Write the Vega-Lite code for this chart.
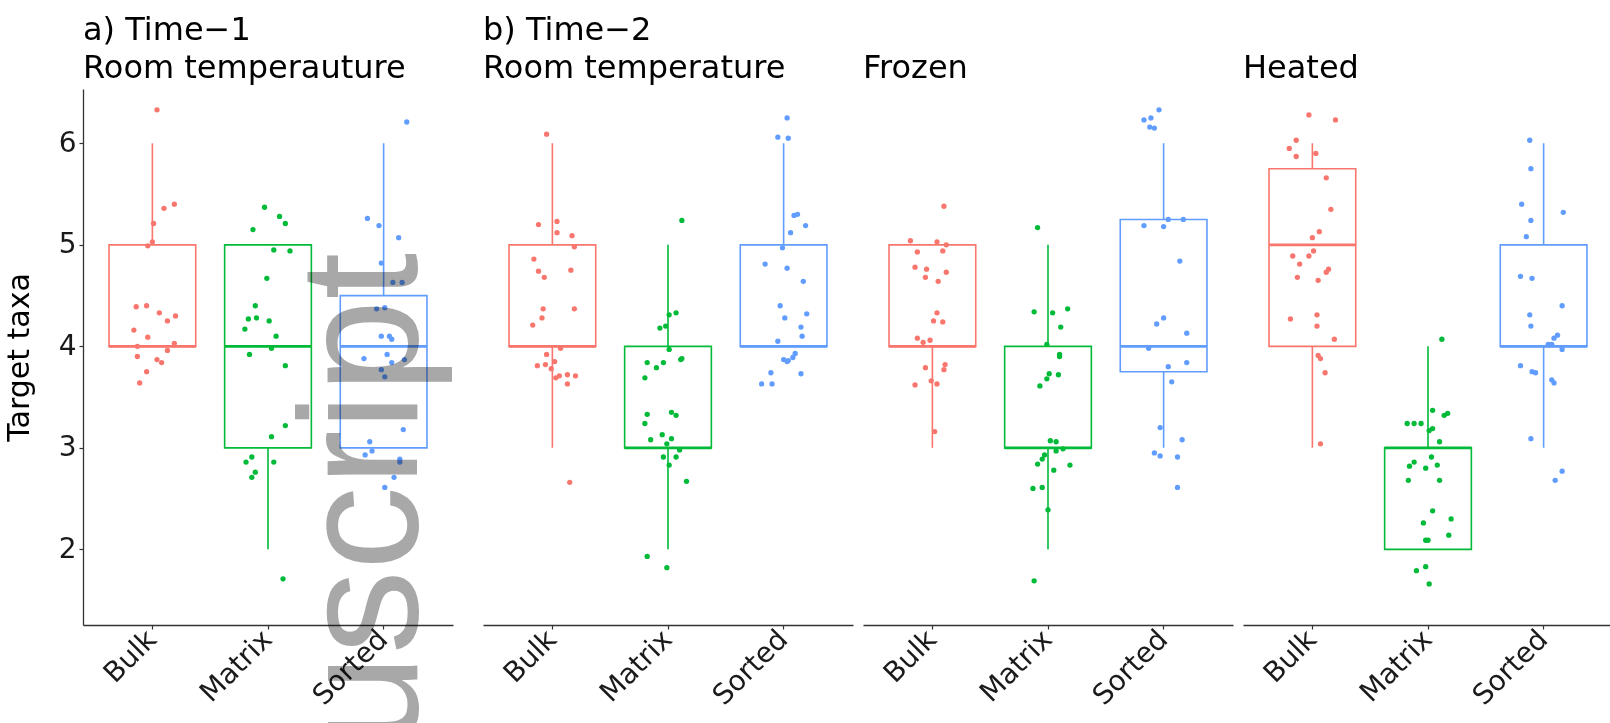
{
  "$schema": "https://vega.github.io/schema/vega-lite/v6.json",
  "background": "white",
  "padding": {"left": 4, "top": 14, "right": 0, "bottom": 0},
  "spacing": 10,
  "datasets": {
    "box": [
      {"p":1,"g":"Bulk","lo":4,"q1":4,"med":4,"q3":5,"hi":6},
      {"p":1,"g":"Matrix","lo":2,"q1":3,"med":4,"q3":5,"hi":5},
      {"p":1,"g":"Sorted","lo":3,"q1":3,"med":4,"q3":4.5,"hi":6},
      {"p":2,"g":"Bulk","lo":3,"q1":4,"med":4,"q3":5,"hi":6},
      {"p":2,"g":"Matrix","lo":2,"q1":3,"med":3,"q3":4,"hi":5},
      {"p":2,"g":"Sorted","lo":4,"q1":4,"med":4,"q3":5,"hi":6},
      {"p":3,"g":"Bulk","lo":3,"q1":4,"med":4,"q3":5,"hi":5},
      {"p":3,"g":"Matrix","lo":2,"q1":3,"med":3,"q3":4,"hi":5},
      {"p":3,"g":"Sorted","lo":3,"q1":3.75,"med":4,"q3":5.25,"hi":6},
      {"p":4,"g":"Bulk","lo":3,"q1":4,"med":5,"q3":5.75,"hi":6},
      {"p":4,"g":"Matrix","lo":2,"q1":2,"med":3,"q3":3,"hi":4},
      {"p":4,"g":"Sorted","lo":3,"q1":4,"med":4,"q3":5,"hi":6}
    ],
    "pts": [
      {"p":1,"g":"Bulk","v":6.33,"j":0.04},{"p":1,"g":"Bulk","v":5.36,"j":0.10},{"p":1,"g":"Bulk","v":5.40,"j":0.19},{"p":1,"g":"Bulk","v":5.21,"j":0.01},{"p":1,"g":"Bulk","v":5.03,"j":0.0},{"p":1,"g":"Bulk","v":4.99,"j":-0.04},{"p":1,"g":"Bulk","v":4.39,"j":-0.14},{"p":1,"g":"Bulk","v":4.40,"j":-0.05},{"p":1,"g":"Bulk","v":4.33,"j":0.06},{"p":1,"g":"Bulk","v":4.30,"j":0.20},{"p":1,"g":"Bulk","v":4.25,"j":0.13},{"p":1,"g":"Bulk","v":4.16,"j":-0.16},{"p":1,"g":"Bulk","v":4.09,"j":-0.04},{"p":1,"g":"Bulk","v":4.03,"j":0.19},{"p":1,"g":"Bulk","v":4.00,"j":-0.13},{"p":1,"g":"Bulk","v":3.90,"j":-0.13},{"p":1,"g":"Bulk","v":3.96,"j":0.13},{"p":1,"g":"Bulk","v":3.87,"j":0.04},{"p":1,"g":"Bulk","v":3.84,"j":0.08},{"p":1,"g":"Bulk","v":3.75,"j":-0.05},{"p":1,"g":"Bulk","v":3.64,"j":-0.11},
      {"p":1,"g":"Matrix","v":5.37,"j":-0.03},{"p":1,"g":"Matrix","v":5.28,"j":0.10},{"p":1,"g":"Matrix","v":5.21,"j":0.15},{"p":1,"g":"Matrix","v":5.15,"j":-0.13},{"p":1,"g":"Matrix","v":4.95,"j":0.05},{"p":1,"g":"Matrix","v":4.94,"j":0.19},{"p":1,"g":"Matrix","v":4.67,"j":-0.01},{"p":1,"g":"Matrix","v":4.40,"j":-0.11},{"p":1,"g":"Matrix","v":4.27,"j":-0.17},{"p":1,"g":"Matrix","v":4.28,"j":-0.10},{"p":1,"g":"Matrix","v":4.25,"j":0.01},{"p":1,"g":"Matrix","v":4.17,"j":-0.20},{"p":1,"g":"Matrix","v":4.10,"j":0.07},{"p":1,"g":"Matrix","v":3.98,"j":0.03},{"p":1,"g":"Matrix","v":3.92,"j":-0.16},{"p":1,"g":"Matrix","v":3.81,"j":0.15},{"p":1,"g":"Matrix","v":3.22,"j":0.15},{"p":1,"g":"Matrix","v":3.11,"j":0.03},{"p":1,"g":"Matrix","v":2.91,"j":-0.14},{"p":1,"g":"Matrix","v":2.86,"j":-0.19},{"p":1,"g":"Matrix","v":2.86,"j":0.05},{"p":1,"g":"Matrix","v":2.76,"j":-0.11},{"p":1,"g":"Matrix","v":2.71,"j":-0.14},{"p":1,"g":"Matrix","v":1.71,"j":0.13},
      {"p":1,"g":"Sorted","v":6.21,"j":0.20},{"p":1,"g":"Sorted","v":5.26,"j":-0.14},{"p":1,"g":"Sorted","v":5.19,"j":-0.04},{"p":1,"g":"Sorted","v":5.07,"j":0.13},{"p":1,"g":"Sorted","v":4.82,"j":-0.02},{"p":1,"g":"Sorted","v":4.63,"j":0.08},{"p":1,"g":"Sorted","v":4.63,"j":0.16},{"p":1,"g":"Sorted","v":4.37,"j":-0.06},{"p":1,"g":"Sorted","v":4.38,"j":0.01},{"p":1,"g":"Sorted","v":4.10,"j":-0.02},{"p":1,"g":"Sorted","v":4.10,"j":0.05},{"p":1,"g":"Sorted","v":4.07,"j":0.07},{"p":1,"g":"Sorted","v":3.88,"j":-0.17},{"p":1,"g":"Sorted","v":3.92,"j":0.03},{"p":1,"g":"Sorted","v":3.84,"j":0.07},{"p":1,"g":"Sorted","v":3.87,"j":0.18},{"p":1,"g":"Sorted","v":3.77,"j":-0.02},{"p":1,"g":"Sorted","v":3.70,"j":0.01},{"p":1,"g":"Sorted","v":3.18,"j":0.17},{"p":1,"g":"Sorted","v":3.06,"j":-0.12},{"p":1,"g":"Sorted","v":2.97,"j":-0.10},{"p":1,"g":"Sorted","v":2.93,"j":-0.16},{"p":1,"g":"Sorted","v":2.89,"j":0.14},{"p":1,"g":"Sorted","v":2.86,"j":0.14},{"p":1,"g":"Sorted","v":2.71,"j":0.09},{"p":1,"g":"Sorted","v":2.61,"j":0.01},
      {"p":2,"g":"Bulk","v":6.09,"j":-0.05},{"p":2,"g":"Bulk","v":5.20,"j":-0.12},{"p":2,"g":"Bulk","v":5.23,"j":0.04},{"p":2,"g":"Bulk","v":5.12,"j":0.04},{"p":2,"g":"Bulk","v":5.09,"j":0.17},{"p":2,"g":"Bulk","v":4.98,"j":0.19},{"p":2,"g":"Bulk","v":4.86,"j":-0.16},{"p":2,"g":"Bulk","v":4.74,"j":-0.12},{"p":2,"g":"Bulk","v":4.68,"j":-0.07},{"p":2,"g":"Bulk","v":4.75,"j":0.16},{"p":2,"g":"Bulk","v":4.37,"j":-0.08},{"p":2,"g":"Bulk","v":4.37,"j":0.19},{"p":2,"g":"Bulk","v":4.28,"j":-0.09},{"p":2,"g":"Bulk","v":4.21,"j":-0.17},{"p":2,"g":"Bulk","v":3.98,"j":0.07},{"p":2,"g":"Bulk","v":3.92,"j":-0.05},{"p":2,"g":"Bulk","v":3.85,"j":0.02},{"p":2,"g":"Bulk","v":3.81,"j":-0.13},{"p":2,"g":"Bulk","v":3.82,"j":-0.06},{"p":2,"g":"Bulk","v":3.78,"j":-0.01},{"p":2,"g":"Bulk","v":3.69,"j":0.03},{"p":2,"g":"Bulk","v":3.71,"j":0.06},{"p":2,"g":"Bulk","v":3.72,"j":0.13},{"p":2,"g":"Bulk","v":3.71,"j":0.20},{"p":2,"g":"Bulk","v":3.63,"j":0.13},{"p":2,"g":"Bulk","v":2.66,"j":0.15},
      {"p":2,"g":"Matrix","v":5.24,"j":0.12},{"p":2,"g":"Matrix","v":4.31,"j":0.01},{"p":2,"g":"Matrix","v":4.33,"j":0.07},{"p":2,"g":"Matrix","v":4.18,"j":-0.07},{"p":2,"g":"Matrix","v":4.20,"j":-0.02},{"p":2,"g":"Matrix","v":3.97,"j":0.01},{"p":2,"g":"Matrix","v":3.84,"j":-0.18},{"p":2,"g":"Matrix","v":3.79,"j":-0.10},{"p":2,"g":"Matrix","v":3.84,"j":-0.04},{"p":2,"g":"Matrix","v":3.87,"j":0.11},{"p":2,"g":"Matrix","v":3.88,"j":0.12},{"p":2,"g":"Matrix","v":3.69,"j":-0.20},{"p":2,"g":"Matrix","v":3.33,"j":-0.18},{"p":2,"g":"Matrix","v":3.35,"j":0.03},{"p":2,"g":"Matrix","v":3.32,"j":0.07},{"p":2,"g":"Matrix","v":3.24,"j":-0.20},{"p":2,"g":"Matrix","v":3.13,"j":-0.05},{"p":2,"g":"Matrix","v":3.08,"j":-0.15},{"p":2,"g":"Matrix","v":3.09,"j":0.03},{"p":2,"g":"Matrix","v":3.04,"j":-0.01},{"p":2,"g":"Matrix","v":2.98,"j":0.10},{"p":2,"g":"Matrix","v":2.91,"j":-0.04},{"p":2,"g":"Matrix","v":2.91,"j":0.07},{"p":2,"g":"Matrix","v":2.83,"j":0.01},{"p":2,"g":"Matrix","v":2.67,"j":0.16},{"p":2,"g":"Matrix","v":1.93,"j":-0.18},{"p":2,"g":"Matrix","v":1.82,"j":-0.01},
      {"p":2,"g":"Sorted","v":6.25,"j":0.03},{"p":2,"g":"Sorted","v":6.06,"j":-0.05},{"p":2,"g":"Sorted","v":6.05,"j":0.04},{"p":2,"g":"Sorted","v":5.29,"j":0.09},{"p":2,"g":"Sorted","v":5.30,"j":0.12},{"p":2,"g":"Sorted","v":5.19,"j":0.19},{"p":2,"g":"Sorted","v":5.12,"j":0.06},{"p":2,"g":"Sorted","v":4.97,"j":-0.01},{"p":2,"g":"Sorted","v":4.81,"j":-0.16},{"p":2,"g":"Sorted","v":4.77,"j":0.03},{"p":2,"g":"Sorted","v":4.64,"j":0.17},{"p":2,"g":"Sorted","v":4.40,"j":-0.03},{"p":2,"g":"Sorted","v":4.28,"j":0.01},{"p":2,"g":"Sorted","v":4.32,"j":0.20},{"p":2,"g":"Sorted","v":4.19,"j":0.15},{"p":2,"g":"Sorted","v":4.10,"j":0.16},{"p":2,"g":"Sorted","v":4.05,"j":-0.05},{"p":2,"g":"Sorted","v":3.93,"j":0.10},{"p":2,"g":"Sorted","v":3.89,"j":0.08},{"p":2,"g":"Sorted","v":3.87,"j":0.00},{"p":2,"g":"Sorted","v":3.85,"j":0.03},{"p":2,"g":"Sorted","v":3.86,"j":0.04},{"p":2,"g":"Sorted","v":3.74,"j":-0.11},{"p":2,"g":"Sorted","v":3.73,"j":0.15},{"p":2,"g":"Sorted","v":3.63,"j":-0.19},{"p":2,"g":"Sorted","v":3.63,"j":-0.10},
      {"p":3,"g":"Bulk","v":5.38,"j":0.10},{"p":3,"g":"Bulk","v":5.04,"j":-0.19},{"p":3,"g":"Bulk","v":5.03,"j":0.04},{"p":3,"g":"Bulk","v":5.00,"j":0.12},{"p":3,"g":"Bulk","v":4.93,"j":-0.13},{"p":3,"g":"Bulk","v":4.94,"j":0.09},{"p":3,"g":"Bulk","v":4.78,"j":-0.15},{"p":3,"g":"Bulk","v":4.76,"j":-0.05},{"p":3,"g":"Bulk","v":4.68,"j":-0.06},{"p":3,"g":"Bulk","v":4.73,"j":0.12},{"p":3,"g":"Bulk","v":4.64,"j":0.05},{"p":3,"g":"Bulk","v":4.33,"j":0.04},{"p":3,"g":"Bulk","v":4.25,"j":0.01},{"p":3,"g":"Bulk","v":4.24,"j":0.09},{"p":3,"g":"Bulk","v":4.08,"j":-0.13},{"p":3,"g":"Bulk","v":4.04,"j":-0.08},{"p":3,"g":"Bulk","v":4.06,"j":-0.02},{"p":3,"g":"Bulk","v":3.79,"j":-0.06},{"p":3,"g":"Bulk","v":3.82,"j":0.11},{"p":3,"g":"Bulk","v":3.77,"j":0.10},{"p":3,"g":"Bulk","v":3.62,"j":-0.15},{"p":3,"g":"Bulk","v":3.66,"j":-0.01},{"p":3,"g":"Bulk","v":3.63,"j":0.04},{"p":3,"g":"Bulk","v":3.16,"j":0.02},
      {"p":3,"g":"Matrix","v":5.17,"j":-0.09},{"p":3,"g":"Matrix","v":4.34,"j":-0.12},{"p":3,"g":"Matrix","v":4.33,"j":0.04},{"p":3,"g":"Matrix","v":4.37,"j":0.17},{"p":3,"g":"Matrix","v":4.19,"j":0.11},{"p":3,"g":"Matrix","v":4.02,"j":-0.01},{"p":3,"g":"Matrix","v":3.92,"j":0.10},{"p":3,"g":"Matrix","v":3.90,"j":0.10},{"p":3,"g":"Matrix","v":3.73,"j":0.01},{"p":3,"g":"Matrix","v":3.72,"j":0.09},{"p":3,"g":"Matrix","v":3.68,"j":-0.01},{"p":3,"g":"Matrix","v":3.61,"j":-0.07},{"p":3,"g":"Matrix","v":3.07,"j":0.02},{"p":3,"g":"Matrix","v":3.06,"j":0.07},{"p":3,"g":"Matrix","v":2.99,"j":0.13},{"p":3,"g":"Matrix","v":2.97,"j":0.07},{"p":3,"g":"Matrix","v":2.93,"j":-0.03},{"p":3,"g":"Matrix","v":2.89,"j":-0.05},{"p":3,"g":"Matrix","v":2.84,"j":-0.09},{"p":3,"g":"Matrix","v":2.78,"j":0.05},{"p":3,"g":"Matrix","v":2.83,"j":0.19},{"p":3,"g":"Matrix","v":2.60,"j":-0.13},{"p":3,"g":"Matrix","v":2.61,"j":-0.05},{"p":3,"g":"Matrix","v":2.39,"j":0.00},{"p":3,"g":"Matrix","v":1.69,"j":-0.12},
      {"p":3,"g":"Sorted","v":6.33,"j":-0.04},{"p":3,"g":"Sorted","v":6.23,"j":-0.17},{"p":3,"g":"Sorted","v":6.25,"j":-0.11},{"p":3,"g":"Sorted","v":6.16,"j":-0.12},{"p":3,"g":"Sorted","v":6.15,"j":-0.08},{"p":3,"g":"Sorted","v":5.25,"j":0.04},{"p":3,"g":"Sorted","v":5.25,"j":0.17},{"p":3,"g":"Sorted","v":5.19,"j":-0.17},{"p":3,"g":"Sorted","v":5.18,"j":0.00},{"p":3,"g":"Sorted","v":4.84,"j":0.14},{"p":3,"g":"Sorted","v":4.22,"j":-0.06},{"p":3,"g":"Sorted","v":4.28,"j":0.00},{"p":3,"g":"Sorted","v":4.13,"j":0.20},{"p":3,"g":"Sorted","v":3.98,"j":-0.13},{"p":3,"g":"Sorted","v":3.80,"j":0.04},{"p":3,"g":"Sorted","v":3.84,"j":0.20},{"p":3,"g":"Sorted","v":3.65,"j":0.07},{"p":3,"g":"Sorted","v":3.20,"j":-0.03},{"p":3,"g":"Sorted","v":3.08,"j":0.16},{"p":3,"g":"Sorted","v":2.95,"j":-0.08},{"p":3,"g":"Sorted","v":2.92,"j":-0.03},{"p":3,"g":"Sorted","v":2.91,"j":0.12},{"p":3,"g":"Sorted","v":2.61,"j":0.12},
      {"p":4,"g":"Bulk","v":6.28,"j":-0.03},{"p":4,"g":"Bulk","v":6.23,"j":0.20},{"p":4,"g":"Bulk","v":6.03,"j":-0.14},{"p":4,"g":"Bulk","v":5.95,"j":-0.20},{"p":4,"g":"Bulk","v":5.87,"j":-0.14},{"p":4,"g":"Bulk","v":5.90,"j":0.03},{"p":4,"g":"Bulk","v":5.66,"j":0.12},{"p":4,"g":"Bulk","v":5.35,"j":0.16},{"p":4,"g":"Bulk","v":5.13,"j":0.06},{"p":4,"g":"Bulk","v":5.07,"j":0.00},{"p":4,"g":"Bulk","v":4.89,"j":-0.17},{"p":4,"g":"Bulk","v":4.81,"j":-0.11},{"p":4,"g":"Bulk","v":4.89,"j":-0.03},{"p":4,"g":"Bulk","v":4.94,"j":0.01},{"p":4,"g":"Bulk","v":4.76,"j":0.14},{"p":4,"g":"Bulk","v":4.73,"j":0.12},{"p":4,"g":"Bulk","v":4.68,"j":-0.13},{"p":4,"g":"Bulk","v":4.65,"j":0.05},{"p":4,"g":"Bulk","v":4.27,"j":-0.19},{"p":4,"g":"Bulk","v":4.31,"j":0.04},{"p":4,"g":"Bulk","v":4.20,"j":0.04},{"p":4,"g":"Bulk","v":4.07,"j":0.19},{"p":4,"g":"Bulk","v":3.91,"j":0.05},{"p":4,"g":"Bulk","v":3.88,"j":0.07},{"p":4,"g":"Bulk","v":3.74,"j":0.11},{"p":4,"g":"Bulk","v":3.04,"j":0.07},
      {"p":4,"g":"Matrix","v":4.07,"j":0.12},{"p":4,"g":"Matrix","v":3.37,"j":0.04},{"p":4,"g":"Matrix","v":3.32,"j":0.14},{"p":4,"g":"Matrix","v":3.34,"j":0.17},{"p":4,"g":"Matrix","v":3.24,"j":-0.18},{"p":4,"g":"Matrix","v":3.24,"j":-0.12},{"p":4,"g":"Matrix","v":3.24,"j":-0.06},{"p":4,"g":"Matrix","v":3.19,"j":0.04},{"p":4,"g":"Matrix","v":3.17,"j":0.01},{"p":4,"g":"Matrix","v":3.06,"j":0.10},{"p":4,"g":"Matrix","v":2.91,"j":0.03},{"p":4,"g":"Matrix","v":2.86,"j":-0.12},{"p":4,"g":"Matrix","v":2.82,"j":-0.16},{"p":4,"g":"Matrix","v":2.80,"j":-0.02},{"p":4,"g":"Matrix","v":2.83,"j":0.08},{"p":4,"g":"Matrix","v":2.68,"j":-0.17},{"p":4,"g":"Matrix","v":2.68,"j":0.10},{"p":4,"g":"Matrix","v":2.38,"j":0.04},{"p":4,"g":"Matrix","v":2.26,"j":-0.04},{"p":4,"g":"Matrix","v":2.30,"j":0.20},{"p":4,"g":"Matrix","v":2.14,"j":0.18},{"p":4,"g":"Matrix","v":2.09,"j":-0.02},{"p":4,"g":"Matrix","v":2.09,"j":0.00},{"p":4,"g":"Matrix","v":1.83,"j":-0.02},{"p":4,"g":"Matrix","v":1.79,"j":-0.10},{"p":4,"g":"Matrix","v":1.66,"j":0.01},
      {"p":4,"g":"Sorted","v":6.03,"j":-0.12},{"p":4,"g":"Sorted","v":5.75,"j":-0.11},{"p":4,"g":"Sorted","v":5.40,"j":-0.19},{"p":4,"g":"Sorted","v":5.32,"j":0.17},{"p":4,"g":"Sorted","v":5.24,"j":-0.11},{"p":4,"g":"Sorted","v":5.08,"j":-0.15},{"p":4,"g":"Sorted","v":4.69,"j":-0.20},{"p":4,"g":"Sorted","v":4.67,"j":-0.10},{"p":4,"g":"Sorted","v":4.40,"j":0.16},{"p":4,"g":"Sorted","v":4.31,"j":-0.12},{"p":4,"g":"Sorted","v":4.20,"j":-0.11},{"p":4,"g":"Sorted","v":4.11,"j":0.12},{"p":4,"g":"Sorted","v":4.08,"j":0.09},{"p":4,"g":"Sorted","v":4.02,"j":0.04},{"p":4,"g":"Sorted","v":4.02,"j":0.07},{"p":4,"g":"Sorted","v":3.97,"j":0.16},{"p":4,"g":"Sorted","v":3.81,"j":-0.20},{"p":4,"g":"Sorted","v":3.75,"j":-0.10},{"p":4,"g":"Sorted","v":3.74,"j":-0.07},{"p":4,"g":"Sorted","v":3.67,"j":0.07},{"p":4,"g":"Sorted","v":3.64,"j":0.09},{"p":4,"g":"Sorted","v":3.09,"j":-0.11},{"p":4,"g":"Sorted","v":2.77,"j":0.16},{"p":4,"g":"Sorted","v":2.68,"j":0.10}
    ]
  },
  "hconcat": [
    {
      "width": 370, "height": 536,
      "title": {"text": ["a) Time−1", "Room temperauture"]},
      "resolve": {"scale": {"x": "independent"}, "axis": {"x": "independent"}},
      "layer": [
        {
          "layer": [
            {"data": {"name": "box"}, "transform": [{"filter": "datum.p == 1"}],
             "mark": {"type": "rule", "strokeWidth": 1.6},
             "encoding": {
               "x": {"field": "g", "type": "nominal", "scale": {"domain": ["Bulk","Matrix","Sorted"], "paddingInner": 0.25, "paddingOuter": 0.225}, "axis": {"title": null, "labelAngle": -45, "labelAlign": "right", "labelBaseline": "middle", "tickSize": 4, "labelPadding": 6}},
               "y": {"field": "lo", "type": "quantitative", "scale": {"domain": [1.255, 6.535], "nice": false, "zero": false}, "axis": {"title": "Target taxa", "values": [2,3,4,5,6], "format": "d", "tickSize": 4, "labelPadding": 3, "titlePadding": 24}},
               "y2": {"field": "hi"},
               "color": {"field": "g", "type": "nominal", "scale": {"domain": ["Bulk","Matrix","Sorted"], "range": ["#F8766D","#00BA38","#619CFF"]}, "legend": null}
             }},
            {"data": {"name": "box"}, "transform": [{"filter": "datum.p == 1"}],
             "mark": {"type": "bar", "fill": "white", "strokeWidth": 1.6},
             "encoding": {
               "x": {"field": "g", "type": "nominal"},
               "y": {"field": "q1", "type": "quantitative", "title": "Target taxa"},
               "y2": {"field": "q3"},
               "stroke": {"field": "g", "type": "nominal", "scale": {"domain": ["Bulk","Matrix","Sorted"], "range": ["#F8766D","#00BA38","#619CFF"]}, "legend": null}
             }},
            {"data": {"name": "box"}, "transform": [{"filter": "datum.p == 1"}],
             "mark": {"type": "tick", "thickness": 2.8, "size": 87, "opacity": 1},
             "encoding": {
               "x": {"field": "g", "type": "nominal"},
               "y": {"field": "med", "type": "quantitative", "title": "Target taxa"},
               "color": {"field": "g", "type": "nominal", "legend": null}
             }}
          ]
        },
        {"data": {"name": "pts"}, "transform": [{"filter": "datum.p == 1"}, {"calculate": "indexof(['Bulk','Matrix','Sorted'], datum.g) + 1 + datum.j", "as": "xj"}],
         "mark": {"type": "circle", "size": 28, "opacity": 1},
         "encoding": {
           "x": {"field": "xj", "type": "quantitative", "scale": {"domain": [0.4, 3.6], "nice": false, "zero": false}, "axis": null},
           "y": {"field": "v", "type": "quantitative", "title": "Target taxa"},
           "color": {"field": "g", "type": "nominal", "legend": null}
         }},
        {"data": {"values": [{"c": 3.29, "v": 4.92, "w": "uscript"}]},
         "mark": {"type": "text", "angle": 270, "align": "right", "baseline": "alphabetic", "font": "Liberation Sans", "fontSize": 168, "color": "#a8a8a8", "blend": "multiply"},
         "encoding": {
           "x": {"field": "c", "type": "quantitative", "scale": {"domain": [0.4, 3.6], "nice": false, "zero": false}, "axis": null},
           "y": {"field": "v", "type": "quantitative", "title": "Target taxa"},
           "text": {"field": "w"}
         }}
      ]
    },
    {
      "width": 370, "height": 536,
      "title": {"text": ["b) Time−2", "Room temperature"]},
      "resolve": {"scale": {"x": "independent"}, "axis": {"x": "independent"}},
      "layer": [
        {
          "layer": [
            {"data": {"name": "box"}, "transform": [{"filter": "datum.p == 2"}],
             "mark": {"type": "rule", "strokeWidth": 1.6},
             "encoding": {
               "x": {"field": "g", "type": "nominal", "scale": {"domain": ["Bulk","Matrix","Sorted"], "paddingInner": 0.25, "paddingOuter": 0.225}, "axis": {"title": null, "labelAngle": -45, "labelAlign": "right", "labelBaseline": "middle", "tickSize": 4, "labelPadding": 6}},
               "y": {"field": "lo", "type": "quantitative", "scale": {"domain": [1.255, 6.535], "nice": false, "zero": false}, "axis": {"title": null, "labels": false, "ticks": false, "domain": false, "minExtent": 20, "maxExtent": 20}},
               "y2": {"field": "hi"},
               "color": {"field": "g", "type": "nominal", "scale": {"domain": ["Bulk","Matrix","Sorted"], "range": ["#F8766D","#00BA38","#619CFF"]}, "legend": null}
             }},
            {"data": {"name": "box"}, "transform": [{"filter": "datum.p == 2"}],
             "mark": {"type": "bar", "fill": "white", "strokeWidth": 1.6},
             "encoding": {
               "x": {"field": "g", "type": "nominal"},
               "y": {"field": "q1", "type": "quantitative", "title": null},
               "y2": {"field": "q3"},
               "stroke": {"field": "g", "type": "nominal", "scale": {"domain": ["Bulk","Matrix","Sorted"], "range": ["#F8766D","#00BA38","#619CFF"]}, "legend": null}
             }},
            {"data": {"name": "box"}, "transform": [{"filter": "datum.p == 2"}],
             "mark": {"type": "tick", "thickness": 2.8, "size": 87, "opacity": 1},
             "encoding": {
               "x": {"field": "g", "type": "nominal"},
               "y": {"field": "med", "type": "quantitative", "title": null},
               "color": {"field": "g", "type": "nominal", "legend": null}
             }}
          ]
        },
        {"data": {"name": "pts"}, "transform": [{"filter": "datum.p == 2"}, {"calculate": "indexof(['Bulk','Matrix','Sorted'], datum.g) + 1 + datum.j", "as": "xj"}],
         "mark": {"type": "circle", "size": 28, "opacity": 1},
         "encoding": {
           "x": {"field": "xj", "type": "quantitative", "scale": {"domain": [0.4, 3.6], "nice": false, "zero": false}, "axis": null},
           "y": {"field": "v", "type": "quantitative", "title": null},
           "color": {"field": "g", "type": "nominal", "legend": null}
         }}
      ]
    },
    {
      "width": 370, "height": 536,
      "title": {"text": "Frozen"},
      "resolve": {"scale": {"x": "independent"}, "axis": {"x": "independent"}},
      "layer": [
        {
          "layer": [
            {"data": {"name": "box"}, "transform": [{"filter": "datum.p == 3"}],
             "mark": {"type": "rule", "strokeWidth": 1.6},
             "encoding": {
               "x": {"field": "g", "type": "nominal", "scale": {"domain": ["Bulk","Matrix","Sorted"], "paddingInner": 0.25, "paddingOuter": 0.225}, "axis": {"title": null, "labelAngle": -45, "labelAlign": "right", "labelBaseline": "middle", "tickSize": 4, "labelPadding": 6}},
               "y": {"field": "lo", "type": "quantitative", "scale": {"domain": [1.255, 6.535], "nice": false, "zero": false}, "axis": null},
               "y2": {"field": "hi"},
               "color": {"field": "g", "type": "nominal", "scale": {"domain": ["Bulk","Matrix","Sorted"], "range": ["#F8766D","#00BA38","#619CFF"]}, "legend": null}
             }},
            {"data": {"name": "box"}, "transform": [{"filter": "datum.p == 3"}],
             "mark": {"type": "bar", "fill": "white", "strokeWidth": 1.6},
             "encoding": {
               "x": {"field": "g", "type": "nominal"},
               "y": {"field": "q1", "type": "quantitative", "axis": null},
               "y2": {"field": "q3"},
               "stroke": {"field": "g", "type": "nominal", "scale": {"domain": ["Bulk","Matrix","Sorted"], "range": ["#F8766D","#00BA38","#619CFF"]}, "legend": null}
             }},
            {"data": {"name": "box"}, "transform": [{"filter": "datum.p == 3"}],
             "mark": {"type": "tick", "thickness": 2.8, "size": 87, "opacity": 1},
             "encoding": {
               "x": {"field": "g", "type": "nominal"},
               "y": {"field": "med", "type": "quantitative", "axis": null},
               "color": {"field": "g", "type": "nominal", "legend": null}
             }}
          ]
        },
        {"data": {"name": "pts"}, "transform": [{"filter": "datum.p == 3"}, {"calculate": "indexof(['Bulk','Matrix','Sorted'], datum.g) + 1 + datum.j", "as": "xj"}],
         "mark": {"type": "circle", "size": 28, "opacity": 1},
         "encoding": {
           "x": {"field": "xj", "type": "quantitative", "scale": {"domain": [0.4, 3.6], "nice": false, "zero": false}, "axis": null},
           "y": {"field": "v", "type": "quantitative", "axis": null},
           "color": {"field": "g", "type": "nominal", "legend": null}
         }}
      ]
    },
    {
      "width": 370, "height": 536,
      "title": {"text": "Heated"},
      "resolve": {"scale": {"x": "independent"}, "axis": {"x": "independent"}},
      "layer": [
        {
          "layer": [
            {"data": {"name": "box"}, "transform": [{"filter": "datum.p == 4"}],
             "mark": {"type": "rule", "strokeWidth": 1.6},
             "encoding": {
               "x": {"field": "g", "type": "nominal", "scale": {"domain": ["Bulk","Matrix","Sorted"], "paddingInner": 0.25, "paddingOuter": 0.225}, "axis": {"title": null, "labelAngle": -45, "labelAlign": "right", "labelBaseline": "middle", "tickSize": 4, "labelPadding": 6}},
               "y": {"field": "lo", "type": "quantitative", "scale": {"domain": [1.255, 6.535], "nice": false, "zero": false}, "axis": null},
               "y2": {"field": "hi"},
               "color": {"field": "g", "type": "nominal", "scale": {"domain": ["Bulk","Matrix","Sorted"], "range": ["#F8766D","#00BA38","#619CFF"]}, "legend": null}
             }},
            {"data": {"name": "box"}, "transform": [{"filter": "datum.p == 4"}],
             "mark": {"type": "bar", "fill": "white", "strokeWidth": 1.6},
             "encoding": {
               "x": {"field": "g", "type": "nominal"},
               "y": {"field": "q1", "type": "quantitative", "axis": null},
               "y2": {"field": "q3"},
               "stroke": {"field": "g", "type": "nominal", "scale": {"domain": ["Bulk","Matrix","Sorted"], "range": ["#F8766D","#00BA38","#619CFF"]}, "legend": null}
             }},
            {"data": {"name": "box"}, "transform": [{"filter": "datum.p == 4"}],
             "mark": {"type": "tick", "thickness": 2.8, "size": 87, "opacity": 1},
             "encoding": {
               "x": {"field": "g", "type": "nominal"},
               "y": {"field": "med", "type": "quantitative", "axis": null},
               "color": {"field": "g", "type": "nominal", "legend": null}
             }}
          ]
        },
        {"data": {"name": "pts"}, "transform": [{"filter": "datum.p == 4"}, {"calculate": "indexof(['Bulk','Matrix','Sorted'], datum.g) + 1 + datum.j", "as": "xj"}],
         "mark": {"type": "circle", "size": 28, "opacity": 1},
         "encoding": {
           "x": {"field": "xj", "type": "quantitative", "scale": {"domain": [0.4, 3.6], "nice": false, "zero": false}, "axis": null},
           "y": {"field": "v", "type": "quantitative", "axis": null},
           "color": {"field": "g", "type": "nominal", "legend": null}
         }}
      ]
    }
  ],
  "config": {
    "view": {"stroke": null},
    "axis": {"grid": false, "domainColor": "#333333", "domainWidth": 1.3, "tickColor": "#333333", "tickWidth": 1.2, "labelColor": "#1a1a1a", "labelFont": "DejaVu Sans", "labelFontSize": 28, "titleFont": "DejaVu Sans", "titleFontSize": 30, "titleFontWeight": "normal", "titleColor": "#000000"},
    "title": {"anchor": "start", "frame": "group", "font": "DejaVu Sans", "fontSize": 32, "fontWeight": "normal", "color": "#000000", "lineHeight": 38, "offset": 4}
  }
}
